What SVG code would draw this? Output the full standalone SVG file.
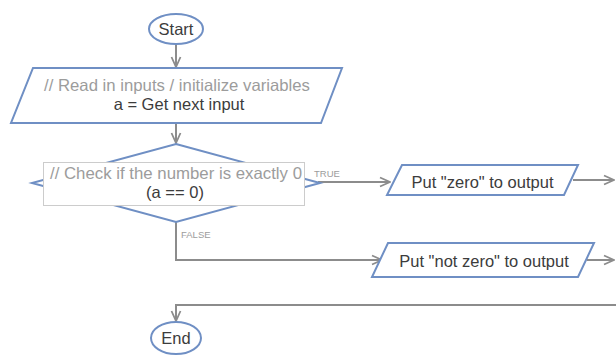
<svg xmlns="http://www.w3.org/2000/svg" width="616" height="358" viewBox="0 0 616 358">
  <defs>
    <marker id="arrow" viewBox="0 0 12 12" refX="11" refY="6" markerWidth="12" markerHeight="12" markerUnits="userSpaceOnUse" orient="auto">
      <path d="M1,1.5 L11,6 L1,10.5" fill="none" stroke="#8c8c8c" stroke-width="1.8"/>
    </marker>
    <style>
      .shape { fill: #ffffff; stroke: #6f8fc4; stroke-width: 2; }
      .box { fill: #ffffff; stroke: #cccccc; stroke-width: 1; }
      .conn { fill: none; stroke: #8c8c8c; stroke-width: 2; marker-end: url(#arrow); }
      .t { font-family: "Liberation Sans", Arial, sans-serif; font-size: 16.5px; fill: #3c3c3c; text-anchor: middle; }
      .c { fill: #9c9c9c; }
      .lbl { font-family: "Liberation Sans", Arial, sans-serif; font-size: 9.5px; fill: #9c9c9c; }
    </style>
  </defs>

  <rect width="616" height="358" fill="#ffffff"/>

  <g id="connectors">
    <path class="conn" d="M176,44 L176,67"/>
    <path class="conn" d="M176,123 L176,143"/>
    <path class="conn" d="M318,182 L390,182"/>
    <path class="conn" d="M176,222 L176,260 L382,260"/>
    <path class="conn" d="M573,180 L614,180"/>
    <path class="conn" d="M587,260 L614,260"/>
    <path class="conn" d="M616,305 L176,305 L176,321"/>
    <text class="lbl" x="314" y="177">TRUE</text>
    <text class="lbl" x="181" y="238">FALSE</text>
  </g>

  <g id="start">
    <ellipse class="shape" cx="176" cy="29" rx="27" ry="15"/>
    <text class="t" x="176" y="35">Start</text>
  </g>

  <g id="read-input">
    <polygon class="shape" points="33,68 342,68 321,123 11,123"/>
    <text class="t c" x="177" y="91" textLength="266" lengthAdjust="spacingAndGlyphs">// Read in inputs / initialize variables</text>
    <text class="t" x="179" y="110">a = Get next input</text>
  </g>

  <g id="check-zero">
    <polygon class="shape" points="176,144 320,183 176,222 32,183"/>
    <rect class="box" x="43.5" y="162.5" width="261" height="43"/>
    <text class="t c" x="176" y="179" textLength="252" lengthAdjust="spacingAndGlyphs">// Check if the number is exactly 0</text>
    <text class="t" x="175" y="198">(a == 0)</text>
  </g>

  <g id="put-zero">
    <polygon class="shape" points="402,165 578,165 564,195 387,195"/>
    <text class="t" x="482.5" y="188">Put "zero" to output</text>
  </g>

  <g id="put-not-zero">
    <polygon class="shape" points="388,243 594,243 578,277 372,277"/>
    <text class="t" x="484" y="267">Put "not zero" to output</text>
  </g>

  <g id="end">
    <ellipse class="shape" cx="176" cy="338" rx="25" ry="16"/>
    <text class="t" x="176" y="344">End</text>
  </g>
</svg>
